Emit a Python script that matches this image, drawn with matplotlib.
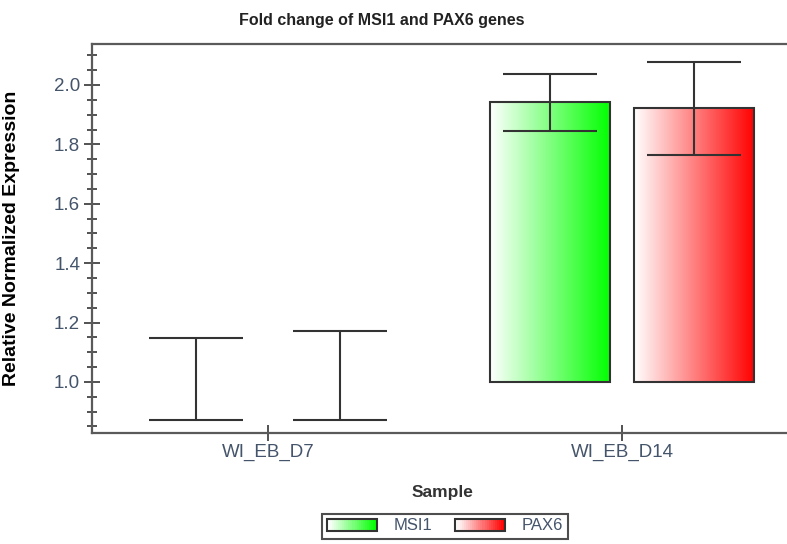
import matplotlib
matplotlib.use("Agg")
import matplotlib.pyplot as plt
import numpy as np
from matplotlib.colors import LinearSegmentedColormap
from matplotlib.legend_handler import HandlerBase
from matplotlib.patches import Patch, Rectangle
from matplotlib.ticker import MultipleLocator

plt.rcParams["font.family"] = ["Liberation Sans", "DejaVu Sans"]

samples = ["WI_EB_D7", "WI_EB_D14"]
genes = ["MSI1", "PAX6"]
gene_colors = ["#00ff00", "#ff0000"]
baseline = 1.0

# mean relative expression, per gene, per sample
msi1_mean = [1.0, 1.944]
pax6_mean = [1.0, 1.922]
# error bar ends (low / high)
msi1_low = [0.872, 1.846]
msi1_high = [1.147, 2.037]
pax6_low = [0.872, 1.764]
pax6_high = [1.171, 2.078]

means = [msi1_mean, pax6_mean]
lows = [msi1_low, pax6_low]
highs = [msi1_high, pax6_high]

EDGE = "#333333"
TICK_TXT = "#44546a"


class GradientHandler(HandlerBase):
    def create_artists(self, legend, orig_handle, xdescent, ydescent,
                       width, height, fontsize, trans):
        cmap = LinearSegmentedColormap.from_list("g", ["white", orig_handle.get_facecolor()])
        n = 24
        arts = []
        for k in range(n):
            r = Rectangle((-xdescent + width * k / n, -ydescent), width / n + 0.3, height,
                          facecolor=cmap(k / (n - 1)), edgecolor="none", transform=trans)
            arts.append(r)
        arts.append(Rectangle((-xdescent, -ydescent), width, height, facecolor="none",
                              edgecolor=EDGE, linewidth=1.5, transform=trans))
        return arts


fig = plt.figure(figsize=(7.87, 5.44), dpi=100)
ax = fig.add_axes([92 / 787, 1 - 433 / 544, 1 - 92 / 787, (433 - 44) / 544])

x = np.arange(len(samples))
offset = 0.203
width = 0.34

for i, gene in enumerate(genes):
    xs = x + (i * 2 - 1) * offset
    heights = [m - baseline for m in means[i]]
    bars = ax.bar(xs, heights, width, bottom=baseline, facecolor="none",
                  edgecolor=EDGE, linewidth=1.5, zorder=3)
    cmap = LinearSegmentedColormap.from_list(gene, ["white", gene_colors[i]])
    grad = np.linspace(0, 1, 256).reshape(1, -1)
    for rect in bars:
        if rect.get_height() <= 0:
            rect.set_visible(False)
            continue
        x0, y0 = rect.get_x(), rect.get_y()
        ax.imshow(grad, cmap=cmap, aspect="auto", zorder=2,
                  extent=[x0, x0 + rect.get_width(), y0, y0 + rect.get_height()])
    yerr = [np.array(means[i]) - np.array(lows[i]), np.array(highs[i]) - np.array(means[i])]
    ax.errorbar(xs, means[i], yerr=yerr, fmt="none", ecolor=EDGE, elinewidth=1.5,
                capsize=34, capthick=1.5, zorder=4)

ax.set_xlim(-0.497, 1.466)
ax.set_ylim(0.828, 2.138)
ax.set_xticks(x)
ax.set_xticklabels(samples)
ax.yaxis.set_major_locator(MultipleLocator(0.2))
ax.yaxis.set_minor_locator(MultipleLocator(0.05))
ax.yaxis.set_major_formatter(lambda v, p: f"{v:.1f}")

for side in ("left", "bottom", "top"):
    ax.spines[side].set_color("#5a5a5a")
    ax.spines[side].set_linewidth(1.6)
ax.spines["right"].set_visible(False)

ax.tick_params(axis="y", which="major", direction="inout", length=11, width=1.3,
               colors="#444444", labelcolor=TICK_TXT, labelsize=13.5, pad=3)
ax.tick_params(axis="y", which="minor", direction="inout", length=6.5, width=1.3,
               colors="#444444")
ax.tick_params(axis="x", direction="inout", length=11.5, width=1.3,
               colors="#444444", labelcolor=TICK_TXT, labelsize=13.5, pad=2)

ax.set_ylabel("Relative Normalized Expression", fontsize=14, fontweight="bold")
ax.yaxis.set_label_coords(-0.104, 0.5)

fig.text(382 / 787, 1 - 20 / 544, "Fold change of MSI1 and PAX6 genes",
         ha="center", va="center", fontsize=11.5, fontweight="bold", color="#222222")
fig.text(443 / 787, 1 - 492 / 544, "Sample", ha="center", va="center",
         fontsize=12.5, fontweight="bold", color="#333333")

handles = [Patch(facecolor=c, label=g) for g, c in zip(genes, gene_colors)]
leg = fig.legend(handles=handles, loc="center", bbox_to_anchor=(445 / 787, 1 - 526 / 544),
                 ncol=2, frameon=True, fancybox=False, fontsize=12,
                 handlelength=3.0, handleheight=0.75, handletextpad=0.95,
                 columnspacing=1.4, borderpad=0.3, borderaxespad=0,
                 handler_map={Patch: GradientHandler()})
leg.get_frame().set_edgecolor("#222222")
leg.get_frame().set_linewidth(1.5)
for t in leg.get_texts():
    t.set_color(TICK_TXT)

fig.savefig("out.png", dpi=100)
